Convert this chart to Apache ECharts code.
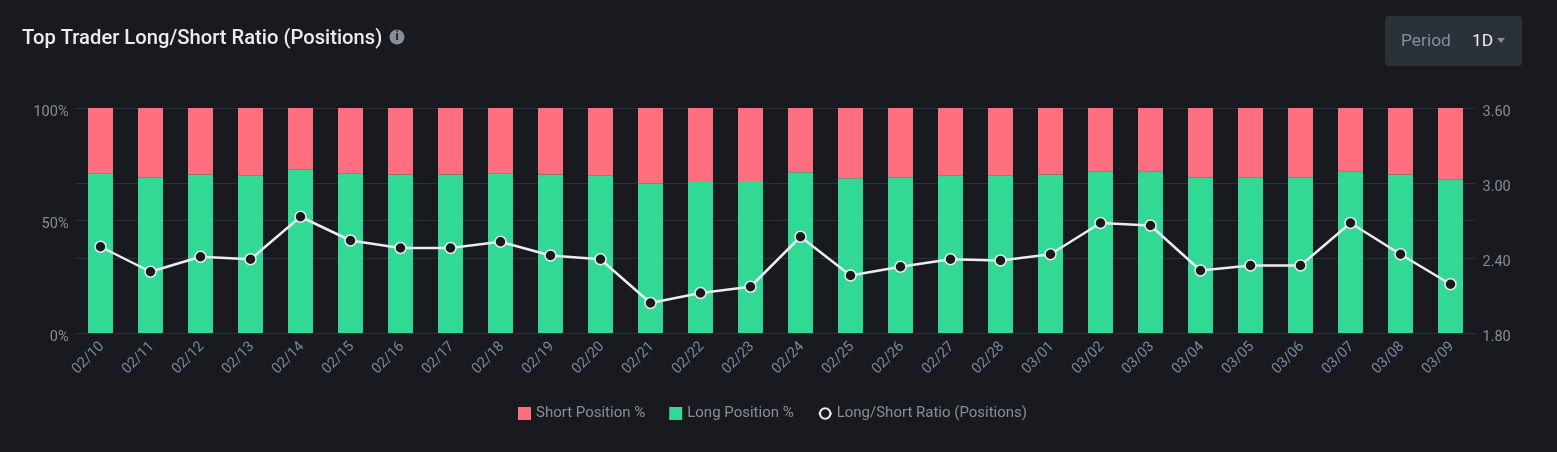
<!DOCTYPE html>
<html><head><meta charset="utf-8">
<style>html,body{margin:0;padding:0;background:#181A20}#c{width:1557px;height:452px}</style>
<script src="https://cdn.jsdelivr.net/npm/echarts@6/dist/echarts.min.js"></script>
</head><body><div id="c"></div>
<script>
const categories = ['02/10','02/11','02/12','02/13','02/14','02/15','02/16','02/17','02/18','02/19','02/20','02/21','02/22','02/23','02/24','02/25','02/26','02/27','02/28','03/01','03/02','03/03','03/04','03/05','03/06','03/07','03/08','03/09'];
const longPct = [71.0,69.2,70.4,69.9,72.6,71.0,70.4,70.4,71.0,70.4,69.9,66.5,67.1,67.6,71.4,68.8,69.2,69.9,69.9,70.4,71.9,71.9,69.2,69.2,69.2,71.9,70.4,68.3];
const shortPct = [29.0,30.8,29.6,30.1,27.4,29.0,29.6,29.6,29.0,29.6,30.1,33.5,32.9,32.4,28.6,31.2,30.8,30.1,30.1,29.6,28.1,28.1,30.8,30.8,30.8,28.1,29.6,31.7];
const ratio = [2.49,2.29,2.41,2.39,2.73,2.54,2.48,2.48,2.53,2.42,2.39,2.04,2.12,2.17,2.57,2.26,2.33,2.39,2.38,2.43,2.68,2.66,2.30,2.34,2.34,2.68,2.43,2.19];
const FONT = 'Roboto';
const MUTED = '#848E9C', GRID = '#2B3139';
const chart = echarts.init(document.getElementById('c'), null, {renderer:'canvas'});
chart.setOption({
  backgroundColor:'#181A20',
  animation:false,
  textStyle:{fontFamily:FONT},
  title:{text:'Top Trader Long/Short Ratio (Positions)',left:22,top:28,padding:0,
    textStyle:{color:'#EAECEF',fontSize:20.2,fontWeight:500,fontFamily:FONT,lineHeight:22}},
  graphic:[
    {type:'circle',shape:{cx:397,cy:37,r:7.5},style:{fill:'#848E9C'},silent:true},
    {type:'text',style:{x:397,y:37,text:'i',fill:'#181A20',font:'bold 12px '+FONT,textAlign:'center',textVerticalAlign:'middle'},silent:true},
    {type:'rect',shape:{x:1385,y:16,width:137,height:50,r:4},style:{fill:'#2B3139'},silent:true},
    {type:'text',style:{x:1401,y:42,text:'Period',fill:MUTED,font:'17.4px '+FONT,textVerticalAlign:'middle'},silent:true},
    {type:'text',style:{x:1472,y:42,text:'1D',fill:'#EAECEF',font:'17.4px '+FONT,textVerticalAlign:'middle'},silent:true},
    {type:'polygon',shape:{points:[[1497,38],[1505,38],[1501,43]]},style:{fill:MUTED},silent:true}
  ],
  legend:{
    data:[{name:'Short Position %',icon:'rect'},{name:'Long Position %',icon:'rect'},{name:'Long/Short Ratio (Positions)'}],
    left:518,top:406,itemWidth:13,itemHeight:13,itemGap:24,
    textStyle:{color:MUTED,fontSize:15,fontFamily:FONT},
    padding:0
  },
  grid:{left:75.5,right:81.5,top:108,height:225,containLabel:false},
  xAxis:{type:'category',data:categories,boundaryGap:true,
    axisLine:{lineStyle:{color:GRID,width:1}},axisTick:{show:false},splitLine:{show:false},
    axisLabel:{color:'#7488A3',rotate:45,fontSize:14.5,fontFamily:FONT,interval:0,margin:10,verticalAlign:'top',lineHeight:4}},
  yAxis:[
    {type:'value',min:0,max:100,interval:50,
     axisLabel:{formatter:'{value}%',color:MUTED,fontSize:14.5,fontFamily:FONT,margin:7,verticalAlign:'top',lineHeight:8},
     axisLine:{show:false},axisTick:{show:false},splitLine:{lineStyle:{color:GRID,width:1}}},
    {type:'value',min:1.8,max:3.6,interval:0.6,position:'right',
     axisLabel:{formatter:v=>v.toFixed(2),color:MUTED,fontSize:14.5,fontFamily:FONT,margin:7,verticalAlign:'top',lineHeight:8},
     axisLine:{show:false},axisTick:{show:false},splitLine:{lineStyle:{color:GRID,width:1}}}
  ],
  series:[
    {name:'Long Position %',type:'bar',stack:'p',data:longPct,barWidth:25,itemStyle:{color:'#31D994'}},
    {name:'Short Position %',type:'bar',stack:'p',data:shortPct,barWidth:25,itemStyle:{color:'#FF6F7F'}},
    {name:'Long/Short Ratio (Positions)',type:'line',yAxisIndex:1,data:ratio,smooth:false,
     symbol:'circle',symbolSize:11,showSymbol:true,
     lineStyle:{color:'#EAECEF',width:2.5},
     itemStyle:{color:'#181A20',borderColor:'#EAECEF',borderWidth:1.5}}
  ]
});
</script></body></html>
